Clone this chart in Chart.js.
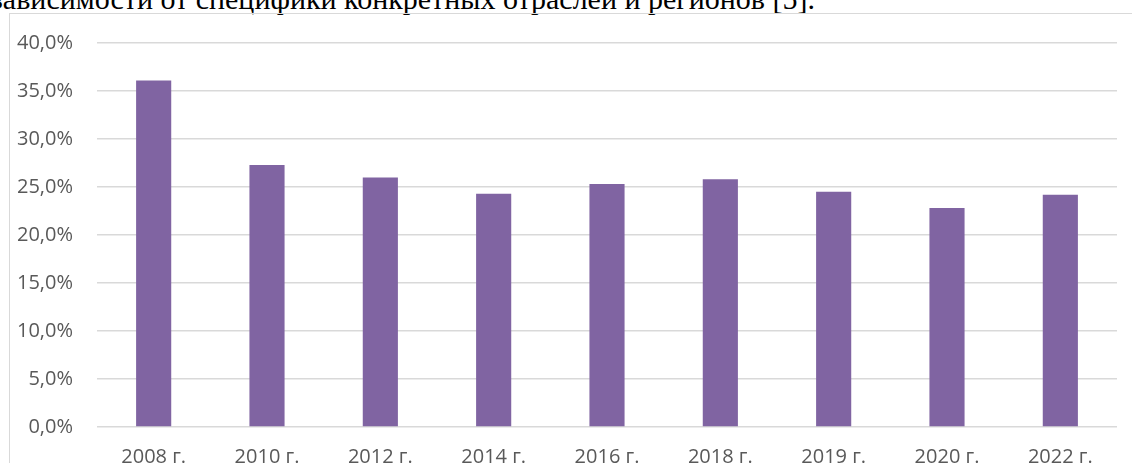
<!DOCTYPE html>
<html>
<head>
<meta charset="utf-8">
<script src="https://cdn.jsdelivr.net/npm/chart.js@4/dist/chart.umd.min.js"></script>
<style>
  html, body { margin: 0; padding: 0; background: #ffffff; overflow: hidden; }
  body { width: 1132px; height: 463px; position: relative; }
  #header { position: absolute; left: -9px; top: -16px; font-family: "Liberation Serif", "Times New Roman", serif; font-size: 30px; color: #000; white-space: nowrap; line-height: 30px; }
  #frame { position: absolute; left: 9px; top: 13px; width: 1200px; height: 600px; border: 1px solid #d9d9d9; box-sizing: border-box; }
  #c { position: absolute; left: 0; top: 0; }
</style>
</head>
<body>
<div id="header">зависимости от специфики конкретных отраслей и регионов [5].</div>
<div id="frame"></div>
<canvas id="c" width="1132" height="463"></canvas>
<script>
const categories = ["2008 г.", "2010 г.", "2012 г.", "2014 г.", "2016 г.", "2018 г.", "2019 г.", "2020 г.", "2022 г."];
const shareValues = [36.1, 27.3, 26.0, 24.3, 25.3, 25.8, 24.5, 22.8, 24.2];
const yTicks = [0, 5, 10, 15, 20, 25, 30, 35, 40];

const labelFont = { family: "'Open Sans', 'Noto Sans', sans-serif", size: 20 };

new Chart(document.getElementById('c'), {
  type: 'bar',
  data: {
    labels: categories,
    datasets: [{
      data: shareValues,
      backgroundColor: '#8064A2',
      borderWidth: 0,
      categoryPercentage: 1.0,
      barPercentage: 0.31
    }]
  },
  options: {
    responsive: false,
    animation: false,
    devicePixelRatio: 1,
    layout: { padding: { left: 0, top: 43, right: 15, bottom: 0 } },
    plugins: { legend: { display: false }, tooltip: { enabled: false } },
    scales: {
      x: {
        grid: { display: false, drawTicks: false },
        border: { display: false },
        ticks: { color: '#595959', font: labelFont, padding: 18, maxRotation: 0, autoSkip: false },
        afterFit: (s) => { s.height = 36; }
      },
      y: {
        min: 0,
        max: 40,
        afterBuildTicks: (s) => { s.ticks = yTicks.map(v => ({ value: v })); },
        grid: { color: '#d9d9d9', lineWidth: 1.5, drawTicks: false },
        border: { display: false },
        ticks: {
          color: '#595959',
          font: labelFont,
          padding: 24,
          callback: (v) => v.toFixed(1).replace('.', ',') + '%'
        },
        afterFit: (s) => { s.width = 97; }
      }
    }
  }
});
</script>
</body>
</html>
